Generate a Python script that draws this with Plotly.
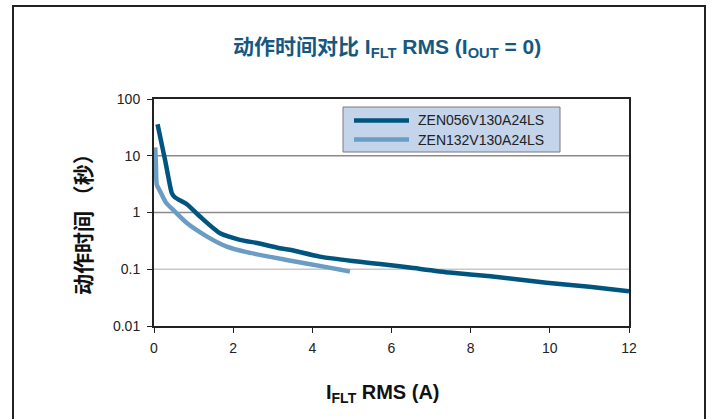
import math
import plotly.graph_objects as go

# ---- data ----
series_names = ["ZEN056V130A24LS", "ZEN132V130A24LS"]
dark_x = [0.09, 0.19, 0.28, 0.36, 0.45, 0.53, 0.83, 1.16, 1.67, 2.17, 2.6, 3.18, 3.43,
          4.19, 5.2, 5.71, 6.46, 7.47, 8.5, 9.92, 11.0, 12.0]
dark_y = [36, 16.6, 8.4, 4.3, 2.2, 1.85, 1.4, 0.85, 0.43, 0.33, 0.29, 0.235, 0.22,
          0.167, 0.135, 0.124, 0.107, 0.0875, 0.075, 0.058, 0.049, 0.041]
light_x = [0.03, 0.05, 0.07, 0.15, 0.3, 0.49, 0.83, 1.33, 1.84, 2.34, 3.35, 4.36, 4.95]
light_y = [14, 6.5, 3.1, 2.4, 1.5, 1.1, 0.65, 0.38, 0.25, 0.2, 0.146, 0.109, 0.091]

x_ticks = [0, 2, 4, 6, 8, 10, 12]
y_ticks = [0.01, 0.1, 1, 10, 100]
y_tick_text = ["0.01", "0.1", "1", "10", "100"]
x_range = [0, 12]
y_log_range = [-2, 2]

title_text = "<b>动作时间对比 I<sub>FLT</sub> RMS (I<sub>OUT</sub> = 0)</b>"
x_title = "<b>I<sub>FLT</sub> RMS (A)</b>"
y_title = "<b>动作时间 （秒）</b>"

DARK = "#00557f"
LIGHT = "#6b9dc4"
LATIN = "Liberation Sans, Arial, Helvetica, sans-serif"
TITLE_FONT = "Liberation Sans Narrow, Liberation Sans, Noto Sans CJK SC, sans-serif"

W, H = 712, 419
L, R, T, B = 154, 83, 99, 93
pw, ph = W - L - R, H - T - B


def px_x(p):
    return (p - L) / pw


def px_y(p):
    return (H - B - p) / ph


fig = go.Figure()
fig.add_trace(go.Scatter(x=dark_x, y=dark_y, mode="lines", name=series_names[0],
                         line=dict(color=DARK, width=4.5, shape="spline", smoothing=0.6),
                         showlegend=False))
fig.add_trace(go.Scatter(x=light_x, y=light_y, mode="lines", name=series_names[1],
                         line=dict(color=LIGHT, width=4.5, shape="spline", smoothing=0.6),
                         showlegend=False))

shapes = []
# gridlines
for v, c in [(10, "#8a8a8a"), (1, "#8a8a8a"), (0.1, "#c8c8c8")]:
    yp = (math.log10(v) - y_log_range[0]) / (y_log_range[1] - y_log_range[0])
    shapes.append(dict(type="line", xref="paper", yref="paper", x0=0, x1=1, y0=yp, y1=yp,
                       line=dict(color=c, width=1.5), layer="below"))
# outer frame (bottom open, extends beyond page)
shapes.append(dict(type="rect", xref="paper", yref="paper",
                   x0=px_x(13), x1=px_x(705), y0=px_y(440), y1=px_y(6),
                   line=dict(color="#222222", width=2)))
# legend box
shapes.append(dict(type="rect", xref="paper", yref="paper",
                   x0=px_x(343), x1=px_x(560), y0=px_y(152), y1=px_y(107),
                   fillcolor="#c4d4ea", line=dict(color="#7a7a7a", width=1)))
annotations = []
for i, (nm, col) in enumerate(zip(series_names, [DARK, LIGHT])):
    yy = 120.5 + i * 19
    shapes.append(dict(type="line", xref="paper", yref="paper",
                       x0=px_x(354), x1=px_x(409), y0=px_y(yy), y1=px_y(yy),
                       line=dict(color=col, width=4.5)))
    annotations.append(dict(text=nm, xref="paper", yref="paper", x=px_x(416), y=px_y(yy),
                            xanchor="left", yanchor="middle", showarrow=False,
                            font=dict(family=LATIN, size=14, color="#222222")))

annotations.append(dict(text=title_text, xref="paper", yref="paper", x=px_x(387), y=px_y(48),
                        xanchor="center", yanchor="middle", showarrow=False,
                        font=dict(family=TITLE_FONT, size=21, color="#16587f")))
annotations.append(dict(text=x_title, xref="paper", yref="paper", x=px_x(383), y=px_y(393),
                        xanchor="center", yanchor="middle", showarrow=False,
                        font=dict(family=TITLE_FONT, size=20, color="#111111")))
annotations.append(dict(text=y_title, xref="paper", yref="paper", x=px_x(82), y=px_y(219),
                        xanchor="center", yanchor="middle", showarrow=False, textangle=-90,
                        font=dict(family="Noto Sans CJK SC, sans-serif", size=21, color="#111111")))

fig.update_layout(
    width=W, height=H,
    margin=dict(l=L, r=R, t=T, b=B),
    paper_bgcolor="white", plot_bgcolor="white",
    shapes=shapes, annotations=annotations,
    showlegend=False,
    xaxis=dict(range=x_range, tickvals=x_ticks, showgrid=False, zeroline=False,
               showline=True, mirror=True, linecolor="#222222", linewidth=2,
               ticks="outside", ticklen=5, tickcolor="#222222", tickwidth=1,
               ticklabelstandoff=3,
               tickfont=dict(family=LATIN, size=14, color="#222222")),
    yaxis=dict(type="log", range=y_log_range, tickvals=y_ticks, ticktext=y_tick_text,
               showgrid=False, zeroline=False,
               showline=True, mirror=True, linecolor="#222222", linewidth=2,
               ticks="outside", ticklen=5, tickcolor="#222222", tickwidth=1,
               ticklabelstandoff=4,
               tickfont=dict(family=LATIN, size=14, color="#222222")),
)

fig.write_html("out.html", config={"displayModeBar": False},
               post_script="document.body.style.margin='0';")
